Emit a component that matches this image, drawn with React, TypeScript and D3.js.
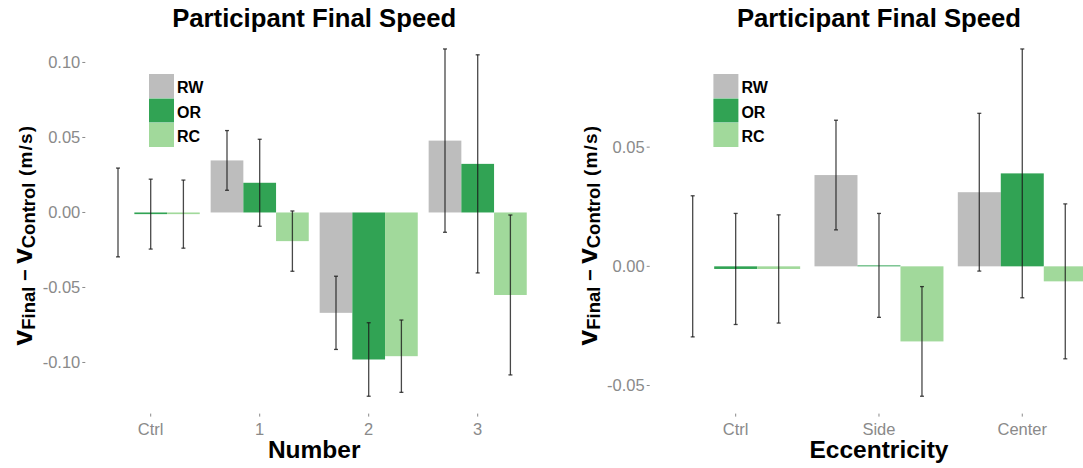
import React from "react";
import * as d3 from "d3";

// Condition names and fills
const seriesNames = ["RW", "OR", "RC"];
const seriesColors = ["#bdbdbd", "#31a354", "#a1d99b"];

// Number panel
const numberCats = ["Ctrl", "1", "2", "3"];
const numberRW = [0, 0.0347, -0.0669, 0.0479];
const numberRWErr = [0.0296, 0.0199, 0.0244, 0.0611];
const numberOR = [-0.0011, 0.0198, -0.098, 0.0324];
const numberORErr = [0.0233, 0.029, 0.0245, 0.0727];
const numberRC = [-0.0011, -0.0191, -0.0958, -0.055];
const numberRCErr = [0.0227, 0.0201, 0.0241, 0.0533];
const numberTicks = [-0.1, -0.05, 0, 0.05, 0.1];

// Eccentricity panel
const eccCats = ["Ctrl", "Side", "Center"];
const eccRW = [0, 0.0383, 0.0311];
const eccRWErr = [0.0296, 0.023, 0.0331];
const eccOR = [-0.0011, 0.0004, 0.039];
const eccORErr = [0.0233, 0.0218, 0.0522];
const eccRC = [-0.0011, -0.0315, -0.0063];
const eccRCErr = [0.0227, 0.023, 0.0325];
const eccTicks = [-0.05, 0, 0.05];

const FONT = "'Liberation Sans', Arial, Helvetica, sans-serif";
const TICK_GREY = "#8a8a8a";

type PanelProps = {
  left: number;
  step: number;
  cats: string[];
  means: number[][];
  errs: number[][];
  ticks: number[];
  title: string;
  xTitle: string;
};

const TOP = 31.6;
const BOTTOM = 413.6;

function Panel({ left, step, cats, means, errs, ticks, title, xTitle }: PanelProps) {
  const n = cats.length;
  const right = left + (n - 1 + 1.2) * step;
  const x = d3.scaleLinear().domain([-0.6, n - 1 + 0.6]).range([left, right]);

  let hi = 0;
  let lo = 0;
  means.forEach((row, s) =>
    row.forEach((m, i) => {
      hi = Math.max(hi, m + errs[s][i]);
      lo = Math.min(lo, m - errs[s][i]);
    })
  );
  const pad = (hi - lo) * 0.05;
  const y = d3.scaleLinear().domain([lo - pad, hi + pad]).range([BOTTOM, TOP]);

  const dodge = 0.9 / seriesNames.length;
  const barW = x(dodge) - x(0);
  const cx = left + (right - left) / 2;
  const labelX = left - 53;
  const labelY = 235;
  const capHalf = 2;

  return (
    <g>
      <text x={cx} y={27} textAnchor="middle" fontFamily={FONT} fontWeight="bold" fontSize={25.7} fill="#000">
        {title}
      </text>

      {/* bars */}
      {means.map((row, s) =>
        row.map((m, i) => {
          const c = x(i + (s - 1) * dodge);
          const y0 = y(0);
          const y1 = y(m);
          return (
            <rect
              key={`b${s}-${i}`}
              x={c - barW / 2}
              width={barW}
              y={Math.min(y0, y1)}
              height={Math.abs(y1 - y0)}
              fill={seriesColors[s]}
            />
          );
        })
      )}

      {/* error bars */}
      {means.map((row, s) =>
        row.map((m, i) => {
          const c = x(i + (s - 1) * dodge);
          const yt = y(m + errs[s][i]);
          const yb = y(m - errs[s][i]);
          return (
            <g key={`e${s}-${i}`} stroke="#1a1a1a" strokeOpacity={0.8} strokeWidth={1.3} fill="none">
              <line x1={c} x2={c} y1={yt} y2={yb} />
              <line x1={c - capHalf} x2={c + capHalf} y1={yt} y2={yt} />
              <line x1={c - capHalf} x2={c + capHalf} y1={yb} y2={yb} />
            </g>
          );
        })
      )}

      {/* y axis */}
      {ticks.map((t) => (
        <g key={`yt${t}`}>
          <line x1={left - 3} x2={left} y1={y(t)} y2={y(t)} stroke={TICK_GREY} strokeWidth={1} />
          <text
            x={left - 5}
            y={y(t)}
            dy="0.36em"
            textAnchor="end"
            fontFamily={FONT}
            fontSize={16.5}
            fill={TICK_GREY}
          >
            {t.toFixed(2)}
          </text>
        </g>
      ))}

      {/* x axis */}
      {cats.map((c, i) => (
        <g key={`xt${c}`}>
          <line x1={x(i)} x2={x(i)} y1={BOTTOM} y2={BOTTOM + 3} stroke={TICK_GREY} strokeWidth={1} />
          <text x={x(i)} y={435} textAnchor="middle" fontFamily={FONT} fontSize={16.5} fill={TICK_GREY}>
            {c}
          </text>
        </g>
      ))}

      <text x={cx} y={458} textAnchor="middle" fontFamily={FONT} fontWeight="bold" fontSize={24.5} fill="#000">
        {xTitle}
      </text>

      {/* y axis title */}
      <text
        transform={`translate(${labelX},${labelY}) rotate(-90)`}
        textAnchor="middle"
        fontFamily={FONT}
        fill="#000"
      >
        <tspan fontWeight="bold" fontSize={28}>v</tspan>
        <tspan fontWeight="bold" fontSize={18.5} dy={3}>Final</tspan>
        <tspan fontWeight="bold" fontSize={20} dy={-3}>{" \u2212 "}</tspan>
        <tspan fontWeight="bold" fontSize={28}>v</tspan>
        <tspan fontWeight="bold" fontSize={18.5} dy={3}>Control</tspan>
        <tspan fontSize={19} fontWeight="bold" letterSpacing={1.2} dy={-3}>{"  (m/s)"}</tspan>
      </text>

      {/* legend */}
      {seriesNames.map((name, s) => {
        const ky = 74 + s * 24.5;
        const kx = left + 63.7;
        return (
          <g key={`lg${name}`}>
            <rect x={kx} y={ky} width={25} height={24} fill={seriesColors[s]} />
            <text x={kx + 28} y={ky + 19} fontFamily={FONT} fontWeight="bold" fontSize={16} fill="#000">
              {name}
            </text>
          </g>
        );
      })}
    </g>
  );
}

export default function App() {
  return (
    <svg
      width={1083}
      height={468}
      style={{ position: "absolute", left: 0, top: 0, display: "block", background: "#fff" }}
    >
      <rect width={1083} height={468} fill="#fff" />
      <Panel
        left={85.3}
        step={109}
        cats={numberCats}
        means={[numberRW, numberOR, numberRC]}
        errs={[numberRWErr, numberORErr, numberRCErr]}
        ticks={numberTicks}
        title="Participant Final Speed"
        xTitle="Number"
      />
      <Panel
        left={649.7}
        step={143.3}
        cats={eccCats}
        means={[eccRW, eccOR, eccRC]}
        errs={[eccRWErr, eccORErr, eccRCErr]}
        ticks={eccTicks}
        title="Participant Final Speed"
        xTitle="Eccentricity"
      />
    </svg>
  );
}
